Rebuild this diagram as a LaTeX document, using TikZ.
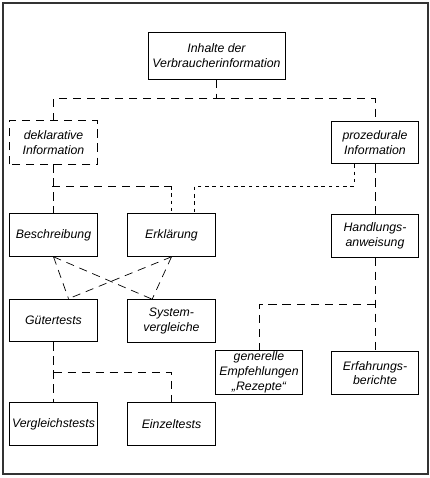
\documentclass[tikz,border=0pt]{standalone}
\usepackage{fontspec}
\setmainfont{Liberation Sans}
\usetikzlibrary{calc}
\begin{document}
\begin{tikzpicture}[
    % Define styles
    box/.style={
        rectangle,
        draw,
        thick,
        minimum width=2.62cm,
        minimum height=1.28cm,
        align=center,
        inner sep=1pt,
        font=\fontsize{10.5}{12.6}\selectfont\itshape
    },
    topbox/.style={
        box,
        minimum width=4.11cm,
        minimum height=1.41cm
    },
    link/.style={
        dash pattern=on 7pt off 5pt,
        line width=0.6pt
    },
    finelink/.style={
        dash pattern=on 3pt off 3.2pt,
        line width=0.6pt
    },
    frame/.style={
        draw=black!80,
        line width=1.2pt
    }
]

% Page size and outer frame
\useasboundingbox (0,0) rectangle (12.9,-14.34);
\draw[frame] (0.09,-0.09) rectangle (12.84,-14.22);

% Top
\node[topbox] (inhalte) at (6.495,-1.665) {Inhalte der\\Verbraucherinformation};

% Second row
\node[box, draw=none] (dekl) at (1.605,-4.275) {deklarative\\Information};
\draw[link] (dekl.south west) rectangle (dekl.north east);
\node[box] (proz) at (11.25,-4.275) {prozedurale\\Information};

% Third row
\node[box] (besch) at (1.605,-7.05) {Beschreibung};
\node[box] (erkl) at (5.145,-7.05) {Erklärung};
\node[box] (handl) at (11.25,-7.07) {Handlungs-\\anweisung};

% Fourth row
\node[box] (guet) at (1.605,-9.615) {Gütertests};
\node[box] (syst) at (5.145,-9.63) {System-\\vergleiche};

% Right side, lower row
\node[box] (gener) at (7.77,-11.175) {generelle\\Empfehlungen\\„Rezepte“};
\node[box] (erfahr) at (11.25,-11.19) {Erfahrungs-\\berichte};

% Bottom row
\node[box] (vergl) at (1.605,-12.72) {Vergleichstests};
\node[box] (einzel) at (5.145,-12.72) {Einzeltests};

% Branch points
\coordinate (fork1) at ($(inhalte.south)+(0,-0.57)$);
\coordinate (fork2) at (1.56,-5.58);
\coordinate (fork3) at (10.62,-5.58);
\coordinate (fork4) at ($(handl.south)+(0,-1.41)$);
\coordinate (fork5) at ($(guet.south)+(0,-0.9)$);

% Inhalte to deklarativ / prozedural
\draw[link] (inhalte.south) -- (fork1) -| (dekl.north);
\draw[link] (fork1) -| (proz.north);

% deklarativ to Beschreibung and Erklaerung
\draw[link] (dekl.south) -- (besch.north);
\draw[link] (fork2) -- (fork2 -| erkl.north);
\draw[finelink] (fork2 -| erkl.north) -- (erkl.north);

% prozedural to Erklaerung and Handlungsanweisung
\draw[finelink] (proz.south -| fork3) -- (fork3) -| ([xshift=0.7cm]erkl.north);
\draw[link] (proz.south) -- (handl.north);

% Crossing links
\draw[link] (besch.south) -- ([xshift=0.45cm]guet.north);
\draw[link] (besch.south) -- ([xshift=-0.58cm]syst.north);
\draw[link] (erkl.south) -- ([xshift=0.45cm]guet.north);
\draw[link] (erkl.south) -- ([xshift=-0.58cm]syst.north);

% Handlungsanweisung to lower row
\draw[link] (handl.south) -- (erfahr.north);
\draw[link] (fork4) -| (gener.north);

% Guetertests to bottom row
\draw[link] (guet.south) -- (vergl.north);
\draw[link] (fork5) -| (einzel.north);
\end{tikzpicture}
\end{document}
